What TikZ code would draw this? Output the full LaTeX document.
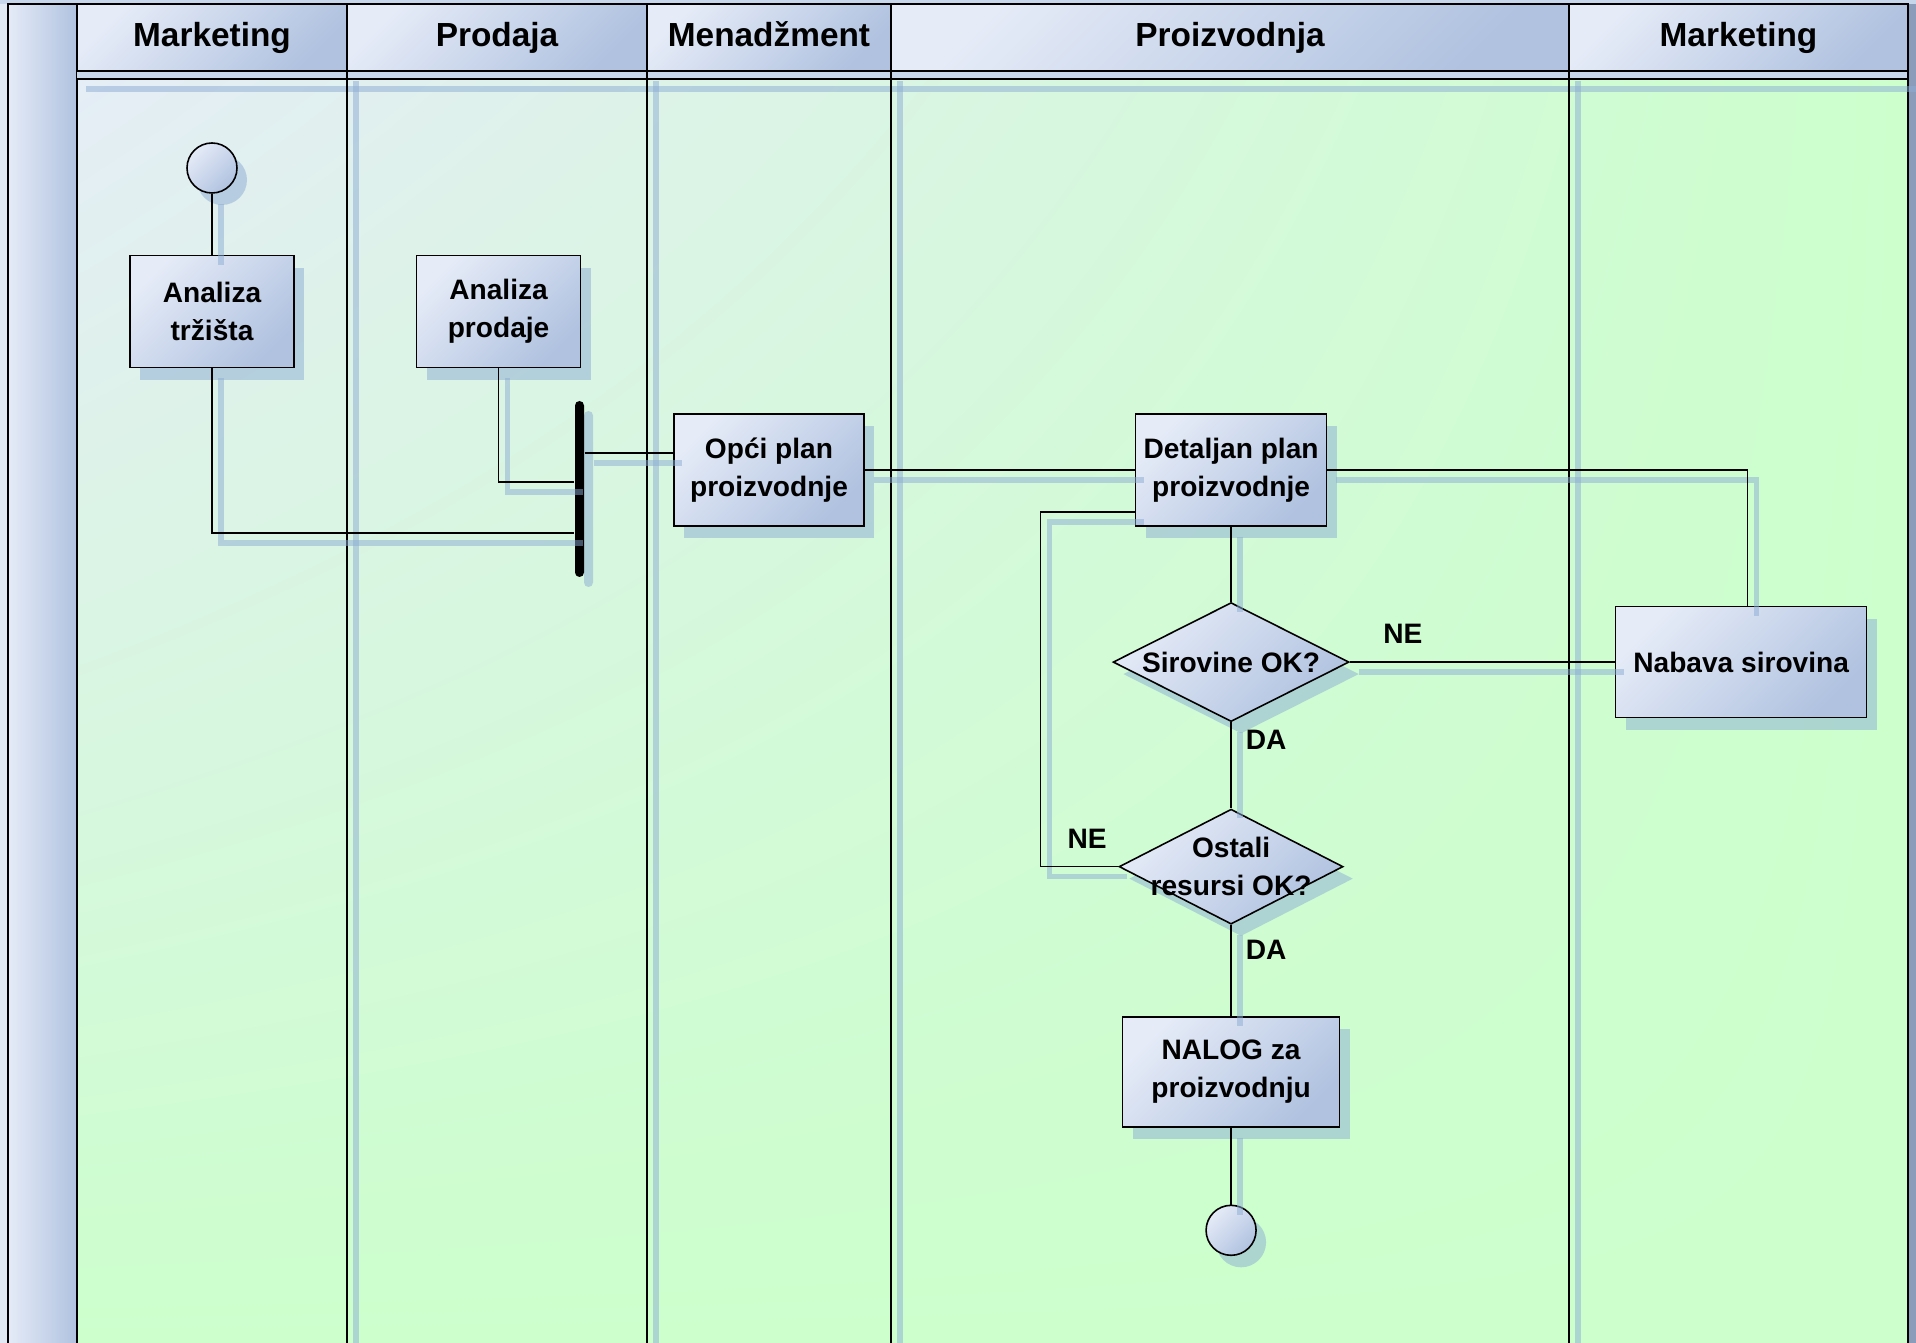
\documentclass[tikz,border=0pt]{standalone}
\usepackage{fontspec}
\setmainfont{Liberation Sans}
\usetikzlibrary{positioning,shapes.geometric,shadows,shadings}

\definecolor{boxlight}{RGB}{229,235,247}
\definecolor{boxdark}{RGB}{176,194,224}
\definecolor{poolblue}{RGB}{229,237,246}
\definecolor{poolgreen}{RGB}{204,255,204}
\definecolor{shadowc}{RGB}{140,172,212}
\definecolor{stripc}{RGB}{200,214,236}
\definecolor{edgec}{RGB}{138,156,186}

\begin{document}
\begin{tikzpicture}[node distance=0.8cm and 1.2cm,
  every node/.style={font=\bfseries\fontsize{8}{10.8}\selectfont},
  link/.style={draw,line width=0.45pt,preaction={draw=shadowc,draw opacity=0.5,line width=1.5pt,transform canvas={xshift=0.09cm,yshift=-0.1cm}}}]
\tikzstyle{box}=[draw,line width=0.45pt,align=center,inner sep=2pt,minimum width=1.64cm,minimum height=1.12cm,top color=boxlight,bottom color=boxdark,shading angle=45,drop shadow={shadow xshift=0.1cm,shadow yshift=-0.12cm,fill=shadowc,opacity=0.5}]
\tikzstyle{decision}=[box,diamond,aspect=2,inner sep=-3pt,minimum width=2.36cm,minimum height=1.19cm]
\tikzstyle{state}=[box,circle,minimum size=0.5cm,inner sep=0pt]
\tikzstyle{lanehead}=[draw,line width=0.5pt,outer sep=0pt,inner sep=0pt,minimum height=0.67cm,text height=0.25cm,text depth=0.07cm,top color=boxlight,bottom color=boxdark,shading angle=45,font=\bfseries\fontsize{9.5}{12}\selectfont]
\tikzstyle{lane}=[line width=0.5pt,preaction={draw=shadowc,draw opacity=0.5,line width=1.5pt,transform canvas={xshift=0.09cm,yshift=-0.1cm}}]
\tikzstyle{lbl}=[inner sep=1pt]
\useasboundingbox (0,0) rectangle (19.16,-13.43);

% pool background
\fill[stripc!55!white] (0,0) rectangle (0.08,-13.43);
\fill[edgec] (19.08,0) rectangle (19.16,-13.43);
\fill[stripc] (0,0) rectangle (19.16,-0.04);
\shade[upper left=poolblue,upper right=poolgreen,lower left=poolgreen,lower right=poolgreen] (0.77,-0.79) rectangle (19.08,-13.43);
\shade[left color=boxlight,right color=boxdark,draw,line width=0.5pt] (0.08,-0.04) rectangle (0.77,-13.6);
\fill[stripc] (0.77,-0.71) rectangle (19.08,-0.79);
\draw[line width=0.5pt] (0.08,-0.04) -- (19.08,-0.04);
\draw[line width=0.5pt] (19.08,-0.04) -- (19.08,-13.43);

% lanes
\node[lanehead,minimum width=2.70cm] (hmark) at (2.12,-0.375) {Marketing};
\node[lanehead,minimum width=3.00cm,right=0pt of hmark] (hprod) {Prodaja};
\node[lanehead,minimum width=2.44cm,right=0pt of hprod] (hmen) {Menadžment};
\node[lanehead,minimum width=6.78cm,right=0pt of hmen] (hproiz) {Proizvodnja};
\node[lanehead,minimum width=3.39cm,right=0pt of hproiz] (hmark2) {Marketing};
\draw[lane] (0.77,-0.79) -- (19.08,-0.79);
\draw[lane] (3.47,-0.71) -- (3.47,-13.43);
\draw[lane] (6.47,-0.71) -- (6.47,-13.43);
\draw[lane] (8.91,-0.71) -- (8.91,-13.43);
\draw[lane] (15.69,-0.71) -- (15.69,-13.43);

% activities
\node[state] (start) at (2.12,-1.68) {};
\node[box,below=0.61cm of start] (trz) {Analiza\\tržišta};
\node[box,right=1.21cm of trz] (prod) {Analiza\\prodaje};
\node[fill=black,minimum width=0.09cm,minimum height=1.76cm,inner sep=0pt,rounded corners=0.045cm,drop shadow={shadow xshift=0.09cm,shadow yshift=-0.1cm,fill=shadowc,opacity=0.5}] (sync) at (5.795,-4.89) {};
\node[box,minimum width=1.90cm] (opci) at (7.69,-4.70) {Opći plan\\proizvodnje};
\node[box,minimum width=1.91cm,right=2.70cm of opci] (det) {Detaljan plan\\proizvodnje};
\node[decision,below=0.75cm of det] (sir) {Sirovine OK?};
\node[decision,minimum width=2.24cm,minimum height=1.15cm,below=0.86cm of sir] (ost) {Ostali\\resursi OK?};
\node[box,minimum width=2.17cm,minimum height=1.10cm,below=0.91cm of ost] (nal) {NALOG za\\proizvodnju};
\node[state,below=0.77cm of nal] (stop) {};
\node[box,minimum width=2.51cm,minimum height=1.11cm,right=2.65cm of sir] (nab) {Nabava sirovina};

% flows
\draw[link] (start) -- (trz);
\draw[link] (trz.south) |- ([yshift=-0.44cm]sync.west);
\draw[link] (prod.south) |- ([yshift=0.07cm]sync.west);
\draw[link] ([yshift=0.36cm]sync.east) -- ([yshift=0.36cm]sync.east -| opci.west);
\draw[link] (opci) -- (det);
\draw[link] (det.east) -| ([xshift=0.065cm]nab.north);
\draw[link] (det) -- (sir);
\draw[link] (sir.east) -- node[lbl,above=4pt,pos=0.2] {NE} (nab.west);
\draw[link] (sir) -- node[lbl,right=3pt,pos=0.2] {DA} (ost);
\draw[link] (ost.west) -- node[lbl,above=4pt,pos=0.4] {NE} ++(-0.78,0) |- ([yshift=-0.42cm]det.west);
\draw[link] (ost) -- node[lbl,right=3pt,pos=0.27] {DA} (nal);
\draw[link] (nal) -- (stop);
\end{tikzpicture}
\end{document}
